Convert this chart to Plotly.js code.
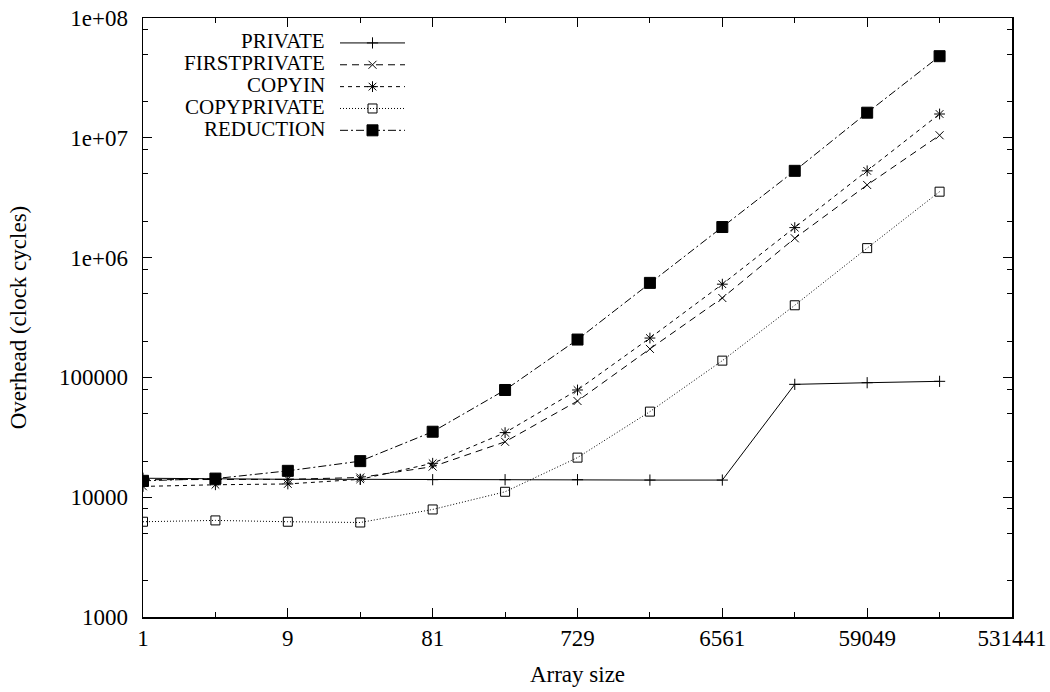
<!DOCTYPE html>
<html>
<head>
<meta charset="utf-8">
<script src="https://cdn.plot.ly/plotly-3.0.1.min.js"></script>
<style>
html,body{margin:0;padding:0;background:#fff;}
#chart{width:1050px;height:692px;}
</style>
</head>
<body>
<div id="chart"></div>
<script>
// ---- data ----
const arraySizes = [1, 3, 9, 27, 81, 243, 729, 2187, 6561, 19683, 59049, 177147];
const seriesNames = ["PRIVATE", "FIRSTPRIVATE", "COPYIN", "COPYPRIVATE", "REDUCTION"];
const privateVals = [14400, 14200, 14100, 14100, 14000, 14000, 14000, 13900, 13900, 87500, 90300, 92700];
const firstprivateVals = [14000, 14000, 14100, 14600, 18000, 29000, 63500, 173000, 460000, 1450000, 4040000, 10500000];
const copyinVals = [12300, 12700, 12900, 14100, 19200, 34600, 78500, 213000, 600000, 1780000, 5300000, 15800000];
const copyprivateVals = [6240, 6400, 6240, 6150, 7900, 11100, 21400, 51800, 138000, 400000, 1200000, 3550000];
const reductionVals = [13700, 14300, 16600, 20000, 35200, 78500, 207000, 615000, 1800000, 5300000, 16200000, 48000000];
const xTickVals = [1, 9, 81, 729, 6561, 59049, 531441];
const xTickText = ["1", "9", "81", "729", "6561", "59049", "531441"];
const xMinorVals = [3, 27, 243, 2187, 19683, 177147];
const yTickVals = [1e3, 1e4, 1e5, 1e6, 1e7, 1e8];
const yTickText = ["1000", "10000", "100000", "1e+06", "1e+07", "1e+08"];
const yMinorVals = [2e3, 5e3, 8e3, 2e4, 5e4, 8e4, 2e5, 5e5, 8e5, 2e6, 5e6, 8e6, 2e7, 5e7, 8e7];

// ---- styles ----
const seriesValues = [privateVals, firstprivateVals, copyinVals, copyprivateVals, reductionVals];
const dashes = ["solid", "7px,5px", "4px,4px", "1px,2px", "8px,3px,2px,3px"];
const symbols = ["cross-thin-open", "x-thin-open", "asterisk-open", "square-open", "square"];
const sizes = [8, 8, 9, 9, 11];

const FONT = "Liberation Serif";
const FS = 23;
const LFS = 21;

const traces = seriesNames.map((name, i) => ({
  type: "scatter",
  mode: "lines+markers",
  x: arraySizes,
  y: seriesValues[i],
  name: "",
  line: {color: "#000", width: 1, dash: dashes[i]},
  marker: {symbol: symbols[i], size: sizes[i], color: "#000", line: {color: "#000", width: 1}},
  hovertemplate: name + ": %{y}<extra></extra>"
}));

const W = 1050, H = 692;
const mL = 143, mR = 38, mT = 18, mB = 75;
const pw = W - mL - mR, ph = H - mT - mB;
const px = v => (v - mL) / pw;
const py = v => (H - mB - v) / ph;

const legendRows = [41, 63, 85, 107, 129];
const annotations = seriesNames.map((n, i) => ({
  xref: "paper", yref: "paper", x: px(327), y: py(legendRows[i]),
  xanchor: "right", yanchor: "middle", showarrow: false,
  text: n, font: {family: FONT, size: LFS, color: "#000"}
}));

const layout = {
  width: W, height: H,
  margin: {l: mL, r: mR, t: mT, b: mB},
  paper_bgcolor: "#fff", plot_bgcolor: "#fff",
  font: {family: FONT, size: FS, color: "#000"},
  showlegend: true,
  legend: {
    x: px(335), y: py(legendRows[0] - 14), xanchor: "left", yanchor: "top",
    bgcolor: "rgba(0,0,0,0)", borderwidth: 0, itemwidth: 65,
    font: {family: FONT, size: 14.5, color: "#000"}, tracegroupgap: 0
  },
  xaxis: {
    type: "log", range: [0, Math.log10(531441)],
    tickmode: "array", tickvals: xTickVals, ticktext: xTickText,
    ticks: "inside", ticklen: 9, tickwidth: 1, tickcolor: "#000",
    minor: {tickmode: "array", tickvals: xMinorVals, ticks: "inside", ticklen: 5, tickwidth: 1, tickcolor: "#000", showgrid: false},
    showline: true, linecolor: "#000", linewidth: 1.5, mirror: "ticks",
    showgrid: false, zeroline: false, ticklabelstandoff: 0,
    tickfont: {family: FONT, size: FS, color: "#000"},
    title: {text: "Array size", font: {family: FONT, size: FS, color: "#000"}, standoff: 16}
  },
  yaxis: {
    type: "log", range: [3, 8],
    tickmode: "array", tickvals: yTickVals, ticktext: yTickText,
    ticks: "inside", ticklen: 9, tickwidth: 1, tickcolor: "#000",
    minor: {tickmode: "array", tickvals: yMinorVals, ticks: "inside", ticklen: 5, tickwidth: 1, tickcolor: "#000", showgrid: false},
    showline: true, linecolor: "#000", linewidth: 1.5, mirror: "ticks",
    showgrid: false, zeroline: false, ticklabelstandoff: 9,
    tickfont: {family: FONT, size: FS, color: "#000"},
    title: {text: "Overhead (clock cycles)", font: {family: FONT, size: FS, color: "#000"}, standoff: 26}
  },
  annotations: annotations
};

Plotly.newPlot("chart", traces, layout, {displayModeBar: false, staticPlot: true});
</script>
</body>
</html>
